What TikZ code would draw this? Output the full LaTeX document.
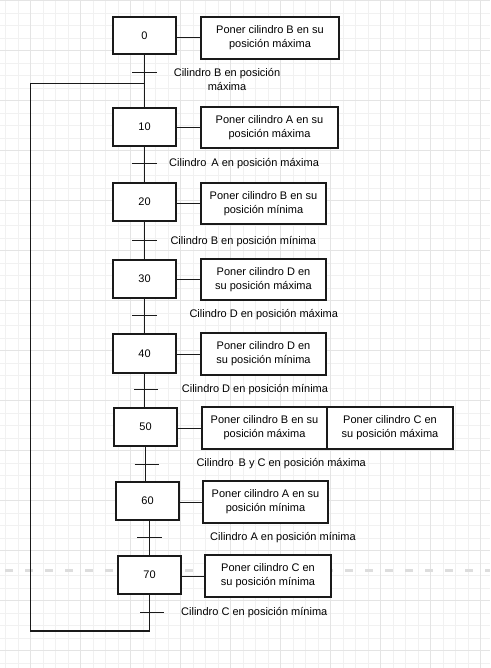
\documentclass[tikz,border=0pt]{standalone}
\usepackage{fontspec}
\setmainfont{Liberation Sans}
\definecolor{gridminor}{HTML}{F1F1F1}
\definecolor{gridmajor}{HTML}{E4E4E4}
\definecolor{dashgray}{HTML}{DDDDDD}
\definecolor{ink}{HTML}{1A1A1A}
\tikzset{
  stepbox/.style={draw=ink, line width=1.1pt, fill=white, inner sep=0pt, font=\fontsize{11}{14}\selectfont},
  actbox/.style={draw=ink, line width=1.1pt, fill=white, inner sep=0pt, align=center, font=\fontsize{11}{14}\selectfont},
  link/.style={draw=ink, line width=1.1pt},
  bar/.style={draw=ink, line width=1pt},
  translabel/.style={anchor=west, inner sep=0pt, align=center, font=\fontsize{11}{14}\selectfont},
}
\newcommand{\stepat}[6]{% name, x1, x2, y1, y2, text
  \node[stepbox, minimum width={#3pt-#2pt}, minimum height={#5pt-#4pt}] (#1) at ({(#2+#3)/2},{(#4+#5)/2}) {#6};}
\newcommand{\actat}[6]{%
  \node[actbox, minimum width={#3pt-#2pt}, minimum height={#5pt-#4pt}] (#1) at ({(#2+#3)/2},{(#4+#5)/2}) {#6};}
\begin{document}
\begin{tikzpicture}[x=1pt, y=-1pt]
\useasboundingbox (0,0) rectangle (490,668);
\fill[white] (0,0) rectangle (490,668);
% grid
\foreach \i in {0,...,39} {
  \pgfmathsetmacro{\xx}{5.7+12.5*\i}
  \draw[gridminor, line width=1pt] (\xx,0) -- (\xx,668);
}
\foreach \i in {0,...,53} {
  \pgfmathsetmacro{\yy}{0.7+12.5*\i}
  \draw[gridminor, line width=1pt] (0,\yy) -- (490,\yy);
}
\foreach \i in {0,...,9} {
  \pgfmathsetmacro{\xx}{30.7+50*\i}
  \draw[gridmajor, line width=1pt] (\xx,0) -- (\xx,668);
}
\foreach \i in {0,...,13} {
  \pgfmathsetmacro{\yy}{0.7+50*\i}
  \draw[gridmajor, line width=1pt] (0,\yy) -- (490,\yy);
}
% dashed guide
\draw[dashgray, line width=3pt, dash pattern=on 8pt off 12pt, dash phase=15pt] (0,570.7) -- (490,570.7);

% steps
\stepat{s0}{113}{176}{17}{54}{0}
\stepat{s10}{113}{176}{108}{146}{10}
\stepat{s20}{113}{176}{183}{221}{20}
\stepat{s30}{113}{176}{260}{298}{30}
\stepat{s40}{113}{176}{334}{373}{40}
\stepat{s50}{114}{177}{408}{446}{50}
\stepat{s60}{116}{179}{482}{520}{60}
\stepat{s70}{118}{181}{556}{594}{70}

% actions
\actat{a0}{201}{339}{17}{59}{Poner cilindro B en su\\posición máxima}
\actat{a10}{201}{338}{107}{148}{Poner cilindro A en su\\posición máxima}
\actat{a20}{201}{326}{183}{224}{Poner cilindro B en su\\posición mínima}
\actat{a30}{201}{326}{259}{300}{Poner cilindro D en\\su posición máxima}
\actat{a40}{201}{326}{333}{375}{Poner cilindro D en\\su posición mínima}
\actat{a50}{202}{327}{407}{449}{Poner cilindro B en su\\posición máxima}
\actat{a50b}{327}{453}{407}{449}{Poner cilindro C en\\su posición máxima}
\actat{a60}{203}{328}{481}{523}{Poner cilindro A en su\\posición mínima}
\actat{a70}{205}{331}{555}{597}{Poner cilindro C en\\su posición mínima}

% step -> action links
\foreach \n in {0,10,20,30,40,50,60,70} {
  \draw[link, line width=1pt] (a\n.west) -- (a\n.west -| s\n.east);
}

% vertical chain
\draw[link] (s0.south) -- (s0.south |- s10.north);
\draw[link] (s10.south) -- (s10.south |- s20.north);
\draw[link] (s20.south) -- (s20.south |- s30.north);
\draw[link] (s30.south) -- (s30.south |- s40.north);
\draw[link] (s40.south) -- (s40.south |- s50.north);
\draw[link] (s50.south) -- (s50.south |- s60.north);
\draw[link] (s70.north) -- (s70.north |- s60.south);

% transitions
\coordinate (t0) at (s0.south |- 0,73);
\coordinate (t10) at (s10.south |- 0,163.3);
\coordinate (t20) at (s20.south |- 0,240.3);
\coordinate (t30) at (s30.south |- 0,315);
\coordinate (t40) at (146.2,389.3);
\coordinate (t50) at (146.8,464);
\coordinate (t60) at (149.5,537.7);
\coordinate (t70) at (152.2,612.3);
\foreach \t in {t0,t10,t20,t30,t40,t50,t60,t70} {
  \draw[bar] ([xshift=-12.2pt]\t) -- ([xshift=12.2pt]\t);
}

% loop back
\coordinate (jn) at (s0.south |- 0,83.3);
\coordinate (lb) at (s70.south |- 0,631);
\coordinate (lc) at (30.7,631);
\draw[link] (s70.south) -- (lb) -- (lc) |- (jn);

% transition labels
\node[translabel, anchor=center] (l0) at (227,80) {Cilindro B en posición\\máxima};
\node[translabel] (l10) at (169,163.3) {Cilindro\, A en posición máxima};
\node[translabel] (l20) at (170.3,241.5) {Cilindro B en posición mínima};
\node[translabel] (l30) at (189.3,315) {Cilindro D en posición máxima};
\node[translabel] (l40) at (181.7,389.3) {Cilindro D en posición mínima};
\node[translabel] (l50) at (196.3,464) {Cilindro\, B y C en posición máxima};
\node[translabel] (l60) at (210,537.7) {Cilindro A en posición mínima};
\node[translabel] (l70) at (181,612.3) {Cilindro C en posición mínima};
\end{tikzpicture}
\end{document}
